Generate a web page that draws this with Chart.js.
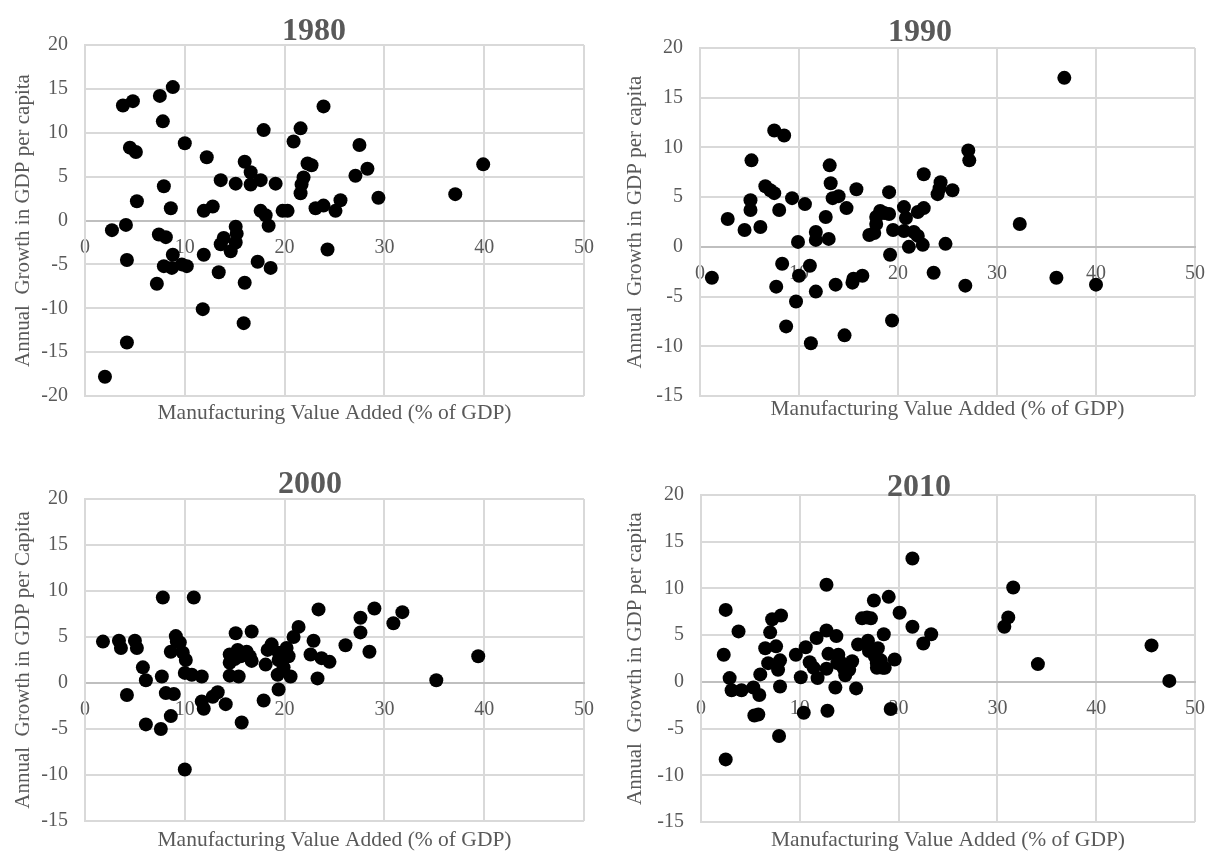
<!DOCTYPE html>
<html lang="en">
<head>
    <meta charset="UTF-8">
    <title>Manufacturing Value Added vs GDP per capita growth</title>
    <script src="https://cdn.jsdelivr.net/npm/chart.js"></script>
    <style>
        body {
            margin: 0;
            background: #ffffff;
            width: 1207px;
            height: 851px;
            overflow: hidden;
        }
        .panel {
            position: absolute;
        }
    </style>
</head>
<body>
    <div class="panel" id="p1980" style="left:0;top:0;width:603px;height:425px;"><canvas id="c1980"></canvas></div>
    <div class="panel" id="p1990" style="left:603px;top:0;width:604px;height:425px;"><canvas id="c1990"></canvas></div>
    <div class="panel" id="p2000" style="left:0;top:425px;width:603px;height:426px;"><canvas id="c2000"></canvas></div>
    <div class="panel" id="p2010" style="left:603px;top:425px;width:604px;height:426px;"><canvas id="c2010"></canvas></div>

    <script>
        // Values (x = manufacturing % of GDP, y = growth)
        const x1980 = [2.0, 2.7, 3.8, 4.8, 4.1, 4.2, 4.2, 4.5, 5.1, 5.2, 7.5, 8.8, 7.8, 7.9, 8.6, 7.4, 8.1, 7.9, 8.7, 8.8,
            9.7, 10.2, 7.2, 10.0, 12.2, 11.9, 12.8, 13.6, 15.1, 11.9, 13.4, 11.8, 13.9, 13.6, 14.6, 15.1, 15.2, 15.1, 16.0, 16.6,
            16.6, 17.6, 17.9, 17.6, 18.1, 18.4, 19.1, 17.3, 18.6, 16.0, 15.9, 19.8, 20.3, 20.9, 21.6, 23.9, 27.5, 22.3, 22.7, 28.3,
            39.9, 27.1, 21.9, 21.7, 21.6, 29.4, 37.1, 25.6, 23.1, 23.9, 25.1, 24.3];
        const y1980 = [-17.8, -1.1, 13.1, 13.6, -0.5, -4.5, -13.9, 8.3, 7.8, 2.2, 14.2, 15.2, 11.3, 3.9, 1.4, -1.6, -1.9, -5.2, -5.4, -3.9,
            -5.0, -5.2, -7.2, 8.8, 7.2, 1.1, 1.6, 4.6, 4.2, -3.9, -5.9, -10.1, -2.0, -2.7, -3.5, -0.7, -1.5, -2.5, 6.7, 5.5,
            4.1, 4.6, 10.3, 1.1, 0.6, -0.6, 4.2, -4.7, -5.4, -7.1, -11.7, 1.1, 1.1, 9.0, 10.5, 13.0, 8.6, 6.5, 6.3, 5.9,
            6.4, 5.1, 4.9, 4.1, 3.1, 2.6, 3.0, 2.3, 1.4, 1.7, 1.1, -3.3];

        const x1990 = [1.2, 2.8, 4.5, 5.1, 5.1, 5.2, 6.1, 6.6, 7.1, 7.5, 7.5, 8.5, 8.0, 9.3, 10.6, 9.9, 8.3, 7.7, 10.0, 11.1,
            9.7, 8.7, 11.2, 11.7, 11.7, 11.7, 12.7, 13.0, 13.1, 13.2, 13.4, 14.0, 13.7, 14.8, 15.8, 14.6, 15.4, 15.5, 16.4, 17.1,
            17.6, 17.8, 17.8, 18.2, 18.6, 19.1, 19.1, 19.5, 19.2, 19.4, 20.6, 20.8, 20.6, 21.1, 21.6, 22.0, 36.8, 27.1, 27.2, 22.6,
            24.3, 24.2, 24.0, 25.5, 22.6, 22.0, 22.5, 24.8, 32.3, 23.6, 26.8, 36.0, 40.0];
        const y1990 = [-3.1, 2.8, 1.7, 4.7, 3.7, 8.7, 2.0, 6.1, 5.7, 5.4, 11.7, 11.2, 3.7, 4.9, 4.3, 0.5, -1.7, -4.0, -2.9, -1.9,
            -5.5, -8.0, -9.7, -4.5, 1.5, 0.7, 3.0, 0.8, 8.2, 6.4, 4.9, 5.1, -3.8, 3.9, 5.8, -8.9, -3.6, -3.2, -2.9, 1.2,
            1.4, 2.3, 3.0, 3.6, 3.4, 3.3, 5.5, 1.7, -0.8, -7.4, 4.0, 2.9, 1.6, 0.0, 1.5, 1.1, 17.0, 9.7, 8.7, 7.3,
            6.5, 5.9, 5.3, 5.7, 3.9, 3.5, 0.2, 0.3, 2.3, -2.6, -3.9, -3.1, -3.8];

        const x2000 = [1.8, 3.4, 3.6, 4.2, 5.0, 5.2, 5.8, 6.1, 6.1, 7.6, 7.7, 7.8, 8.1, 8.9, 8.6, 8.6, 9.1, 9.2, 9.5, 9.8,
            10.1, 10.0, 10.7, 10.9, 11.7, 11.7, 11.9, 10.0, 12.8, 13.3, 14.1, 15.1, 16.7, 14.5, 14.5, 14.5, 15.0, 15.3, 15.4, 15.6,
            16.2, 16.5, 16.7, 15.7, 18.1, 17.9, 18.3, 18.7, 19.4, 19.4, 19.3, 19.4, 19.9, 20.2, 20.4, 20.6, 20.9, 21.4, 23.4, 22.9,
            22.6, 23.7, 24.5, 23.3, 26.1, 27.6, 27.6, 29.0, 28.5, 30.9, 31.8, 39.4, 35.2];
        const y2000 = [4.5, 4.6, 3.8, -1.3, 4.6, 3.8, 1.7, 0.3, -4.5, -5.0, 0.7, 9.3, -1.1, -1.2, 3.4, -3.6, 5.1, 4.5, 4.4, 3.3,
            2.5, 1.1, 0.9, 9.3, 0.7, -2.0, -2.8, -9.4, -1.5, -1.0, -2.3, 5.4, 5.6, 3.1, 2.2, 0.8, 2.6, 3.6, 0.7, 2.9,
            3.4, 2.9, 2.4, -4.3, 2.0, -1.9, 3.6, 4.2, 3.3, 2.5, 0.9, -0.7, 1.7, 3.8, 2.9, 0.7, 5.0, 6.1, 8.0, 4.6,
            3.1, 2.7, 2.3, 0.5, 4.1, 7.1, 5.5, 8.1, 3.4, 6.5, 7.7, 2.9, 0.3];

        const x2010 = [2.3, 2.5, 2.9, 3.1, 3.8, 4.1, 2.5, 5.3, 5.9, 5.4, 5.8, 6.0, 6.5, 6.8, 7.0, 7.2, 7.6, 8.1, 8.0, 7.8,
            8.0, 7.9, 9.6, 10.1, 10.6, 10.4, 11.0, 11.4, 11.7, 11.8, 12.7, 12.7, 12.8, 12.9, 12.7, 13.7, 13.6, 13.9, 13.8, 14.1,
            14.4, 14.6, 15.0, 15.3, 15.7, 15.9, 16.3, 16.8, 17.2, 16.9, 17.0, 17.5, 17.6, 17.9, 17.8, 18.2, 17.8, 18.4, 18.6, 18.5,
            19.0, 19.2, 19.6, 20.1, 21.4, 21.4, 23.3, 22.5, 31.6, 31.1, 30.7, 34.1, 45.6, 47.4];
        const y2010 = [2.9, 7.7, 0.4, -0.9, 5.4, -0.9, -8.3, -0.6, -1.4, -3.6, -3.5, 0.8, 3.6, 2.0, 5.3, 6.7, 3.8, 7.1, 2.3, 1.3,
            -0.5, -5.8, 2.9, 0.5, 3.7, -3.3, 2.1, 1.5, 4.7, 0.4, 10.4, 5.5, -3.1, 3.0, 1.4, 4.9, -0.6, 2.9, 2.0, 2.1,
            1.5, 0.7, 1.3, 2.2, -0.7, 4.0, 6.8, 6.9, 6.8, 4.4, 3.3, 8.7, 2.7, 3.6, 2.0, 2.3, 1.5, 1.5, 1.5, 5.1,
            9.1, -2.9, 2.4, 7.4, 13.2, 5.9, 5.1, 4.1, 10.1, 6.9, 5.9, 1.9, 3.9, 0.1];

        const xMin = 0, xMax = 50, xStep = 10, yStep = 5;
        const xLabel = 'Manufacturing Value Added (% of GDP)';

        const serif = "'Times New Roman', 'Liberation Serif', serif";
        const textColor = '#595959';
        const gridColor = '#d9d9d9';
        const axisColor = '#bfbfbf';

        // Draws the panel title and the x axis caption (the x axis itself sits on y = 0)
        const panelText = {
            id: 'panelText',
            afterDraw(chart, args, opts) {
                const { ctx, chartArea } = chart;
                ctx.save();
                ctx.fillStyle = textColor;
                ctx.textAlign = 'center';
                ctx.textBaseline = 'alphabetic';
                ctx.font = 'bold 32px ' + serif;
                ctx.fillText(opts.title, opts.titleX, opts.titleY);
                ctx.font = '21.5px ' + serif;
                ctx.fillText(xLabel, (chartArea.left + chartArea.right) / 2, opts.captionY);
                ctx.restore();
            }
        };

        const panels = [
            { id: 'c1980', title: '1980', xs: x1980, ys: y1980, yMin: -20, yMax: 20,
              yLabel: 'Annual  Growth in GDP per capita',
              area: { left: 85, top: 45, right: 19, bottom: 28 }, yTitlePad: 11,
              titleX: 314, titleY: 40, captionY: 419 },
            { id: 'c1990', title: '1990', xs: x1990, ys: y1990, yMin: -15, yMax: 20,
              yLabel: 'Annual  Growth in GDP per capita',
              area: { left: 97, top: 48, right: 12, bottom: 29 }, yTitlePad: 20,
              titleX: 317, titleY: 41, captionY: 415 },
            { id: 'c2000', title: '2000', xs: x2000, ys: y2000, yMin: -15, yMax: 20,
              yLabel: 'Annual  Growth in GDP per Capita',
              area: { left: 85, top: 74, right: 19, bottom: 30 }, yTitlePad: 11,
              titleX: 310, titleY: 68, captionY: 421 },
            { id: 'c2010', title: '2010', xs: x2010, ys: y2010, yMin: -15, yMax: 20,
              yLabel: 'Annual  Growth in GDP per capita',
              area: { left: 98, top: 70, right: 12, bottom: 28 }, yTitlePad: 20,
              titleX: 316, titleY: 71, captionY: 421 }
        ];

        panels.forEach(p => {
            new Chart(document.getElementById(p.id), {
                type: 'scatter',
                data: {
                    datasets: [{
                        data: p.xs.map((x, i) => ({ x: x, y: p.ys[i] })),
                        backgroundColor: '#000000',
                        borderWidth: 0,
                        pointRadius: 7,
                        pointHoverRadius: 7
                    }]
                },
                options: {
                    responsive: true,
                    maintainAspectRatio: false,
                    animation: false,
                    events: [],
                    layout: {
                        padding: { left: 0, top: p.area.top, right: p.area.right, bottom: p.area.bottom }
                    },
                    plugins: {
                        legend: { display: false },
                        tooltip: { enabled: false },
                        panelText: { title: p.title, titleX: p.titleX, titleY: p.titleY, captionY: p.captionY }
                    },
                    scales: {
                        x: {
                            type: 'linear',
                            position: { y: 0 },
                            min: xMin,
                            max: xMax,
                            afterFit: scale => {
                                // axis lives inside the plot, so it should not claim any room
                                scale.height = 0;
                                scale.paddingLeft = 0;
                                scale.paddingRight = 0;
                            },
                            grid: { color: gridColor, lineWidth: 2, drawTicks: false },
                            border: { color: axisColor, width: 2 },
                            ticks: {
                                stepSize: xStep,
                                padding: 15,
                                color: textColor,
                                font: { family: serif, size: 20 }
                            }
                        },
                        y: {
                            type: 'linear',
                            position: 'left',
                            min: p.yMin,
                            max: p.yMax,
                            afterFit: scale => { scale.width = p.area.left; },
                            grid: {
                                color: c => (c.tick && c.tick.value === 0 ? axisColor : gridColor),
                                lineWidth: 2,
                                drawTicks: false
                            },
                            border: { color: gridColor, width: 2 },
                            ticks: {
                                stepSize: yStep,
                                padding: 17,
                                color: textColor,
                                font: { family: serif, size: 20 }
                            },
                            title: {
                                display: true,
                                text: p.yLabel,
                                color: textColor,
                                font: { family: serif, size: 21 },
                                padding: { top: p.yTitlePad, bottom: 0 }
                            }
                        }
                    }
                },
                plugins: [panelText]
            });
        });
    </script>
</body>
</html>
